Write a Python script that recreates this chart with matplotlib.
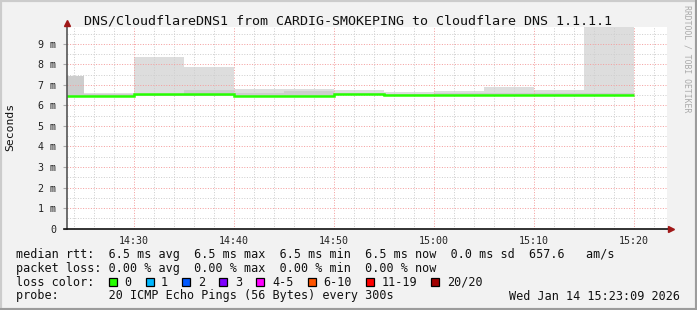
import matplotlib
matplotlib.use("Agg")
import matplotlib.pyplot as plt
from matplotlib.patches import Rectangle
from matplotlib.lines import Line2D
from matplotlib.ticker import FixedLocator, MultipleLocator

W, H = 697, 310

# --- data (ms), one value per 5 minute step ---
step_starts = ["14:20", "14:25", "14:30", "14:35", "14:40", "14:45",
               "14:50", "14:55", "15:00", "15:05", "15:10", "15:15", "15:20"]
median_ms = [6.47, 6.47, 6.55, 6.56, 6.48, 6.48, 6.55, 6.52, 6.52, 6.53, 6.53, 6.53]
smoke_lo = [6.44, 6.45, 6.44, 6.47, 6.44, 6.44, 6.49, 6.49, 6.49, 6.49, 6.49, 6.45]
smoke_hi = [7.45, 6.62, 8.36, 7.87, 6.78, 6.78, 6.74, 6.63, 6.69, 6.90, 6.74, 9.85]
inner_hi = [7.45, 6.55, 6.58, 6.74, 6.60, 6.68, 6.62, 6.58, 6.60, 6.62, 6.62, 6.60]

tick_labels = ["14:30", "14:40", "14:50", "15:00", "15:10", "15:20"]
y_ticks = [0, 1, 2, 3, 4, 5, 6, 7, 8, 9]
y_labels = ["0", "1 m", "2 m", "3 m", "4 m", "5 m", "6 m", "7 m", "8 m", "9 m"]
t_start, t_end = "14:23:18", "15:23:18"

stats = {"avg": 6.5, "max": 6.5, "min": 6.5, "now": 6.5, "sd": 0.0, "ams": 657.6}
loss = {"avg": 0.00, "max": 0.00, "min": 0.00, "now": 0.00}
loss_names = ["0", "1", "2", "3", "4-5", "6-10", "11-19", "20/20"]
loss_colors = ["#26ff00", "#00b8ff", "#0059ff", "#7e00ff", "#ff00ff",
               "#ff5500", "#ff0000", "#a10000"]
probe_text = "20 ICMP Echo Pings (56 Bytes) every 300s"
date_text = "Wed Jan 14 15:23:09 2026"
title = "DNS/CloudflareDNS1 from CARDIG-SMOKEPING to Cloudflare DNS 1.1.1.1"


def minutes(s):
    p = [int(v) for v in s.split(":")]
    m = (p[0] - 14) * 60 + p[1]
    if len(p) > 2:
        m += p[2] / 60
    return m


def fx(x):
    return x / W


def fy(y):
    return 1 - y / H


plt.rcParams["font.family"] = ["DejaVu Sans Mono"]
fig = plt.figure(figsize=(W / 100, H / 100), dpi=100, facecolor="#f2f2f2")

# 3d border
fig.add_artist(Rectangle((0, 0), 1, 1, transform=fig.transFigure, fill=False,
                         edgecolor="#cccccc", lw=3))
fig.add_artist(Line2D([fx(0), fx(W)], [fy(H - 1), fy(H - 1)], color="#9c9c9c", lw=2.2))
fig.add_artist(Line2D([fx(W - 1), fx(W - 1)], [fy(0), fy(H)], color="#9c9c9c", lw=2.2))

L, R, T, B = 67, 667, 27, 228.6
ax = fig.add_axes([fx(L), fy(B), (R - L) / W, (B - T) / H])
ax.set_facecolor("white")

edges = [minutes(s) for s in step_starts]
ax.stairs(smoke_hi, edges, baseline=smoke_lo, fill=True, color="#dddddd", lw=0, zorder=1)
ax.stairs(inner_hi, edges, baseline=smoke_lo, fill=True, color="#cdcdcd", lw=0, zorder=1.1)
ax.stairs(median_ms, edges, baseline=None, color="#26ff00", lw=1.8, zorder=3)

ax.set_xlim(minutes(t_start), minutes(t_end))
ax.set_ylim(0, 9.82)

ax.xaxis.set_major_locator(FixedLocator([minutes(s) for s in tick_labels]))
ax.set_xticklabels(tick_labels)
ax.xaxis.set_minor_locator(MultipleLocator(2))
ax.yaxis.set_major_locator(FixedLocator(y_ticks))
ax.set_yticklabels(y_labels)
ax.yaxis.set_minor_locator(MultipleLocator(0.5))

ax.set_axisbelow(False)
ax.grid(which="minor", color="#cfcfcf", lw=0.72, ls=(0, (1, 1.6)))
ax.grid(which="major", color="#f4a0a0", lw=0.72, ls=(0, (1, 1.6)))
ax.tick_params(which="both", length=0, labelsize=7.2, colors="#222222")
ax.tick_params(axis="y", which="major", length=3, color="#aaaaaa", pad=5)
ax.tick_params(axis="x", pad=5)
for s in ax.spines.values():
    s.set_visible(False)

# axis lines with arrows
fig.add_artist(Line2D([fx(L), fx(L)], [fy(B), fy(T - 3)], color="#555555", lw=1.2))
fig.add_artist(Line2D([fx(L - 3), fx(R + 2)], [fy(B), fy(B)], color="#111111", lw=1.2))
fig.add_artist(Line2D([fx(L)], [fy(T - 4)], marker="^", ms=5, color="#a01818", lw=0))
fig.add_artist(Line2D([fx(R + 4)], [fy(B)], marker=">", ms=5, color="#a01818", lw=0))

fig.text(fx(348), fy(24), title, ha="center", va="baseline", fontsize=9.6, color="#111111")
fig.text(fx(10.5), fy(127), "Seconds", rotation=90, ha="center", va="center",
         fontsize=8.2, color="#111111")
fig.text(fx(687.5), fy(5), "RRDTOOL / TOBI OETIKER", rotation=270, ha="center", va="top",
         fontsize=5.9, color="#aaaaaa")

# legend
fs = 8.5
cw = 7.12
x0 = 16
row1 = ("median rtt:  {avg:.1f} ms avg  {max:.1f} ms max  {min:.1f} ms min  "
        "{now:.1f} ms now  {sd:.1f} ms sd  {ams:.1f}   am/s").format(**stats)
row2 = ("packet loss: {avg:.2f} % avg  {max:.2f} % max  {min:.2f} % min  "
        "{now:.2f} % now").format(**loss)
fig.text(fx(x0), fy(258.3), row1, fontsize=fs, va="baseline", color="#111111")
fig.text(fx(x0), fy(272), row2, fontsize=fs, va="baseline", color="#111111")
fig.text(fx(x0), fy(285.8), "loss color:", fontsize=fs, va="baseline", color="#111111")
bx = x0 + 13 * cw
for name, col in zip(loss_names, loss_colors):
    fig.add_artist(Rectangle((fx(bx), fy(285.5)), 8 / W, 8 / H, transform=fig.transFigure,
                             facecolor=col, edgecolor="black", lw=0.9))
    fig.text(fx(bx + 15.6), fy(285.8), name, fontsize=fs, va="baseline", color="#111111")
    bx += 15.6 + (len(name) + 2) * cw
fig.text(fx(x0), fy(299.5), "probe:" + " " * 7 + probe_text, fontsize=fs, va="baseline",
         color="#111111")
fig.text(fx(680), fy(299.5), date_text, fontsize=fs, va="baseline", ha="right", color="#111111")

fig.savefig("out.png", dpi=100, facecolor=fig.get_facecolor())
